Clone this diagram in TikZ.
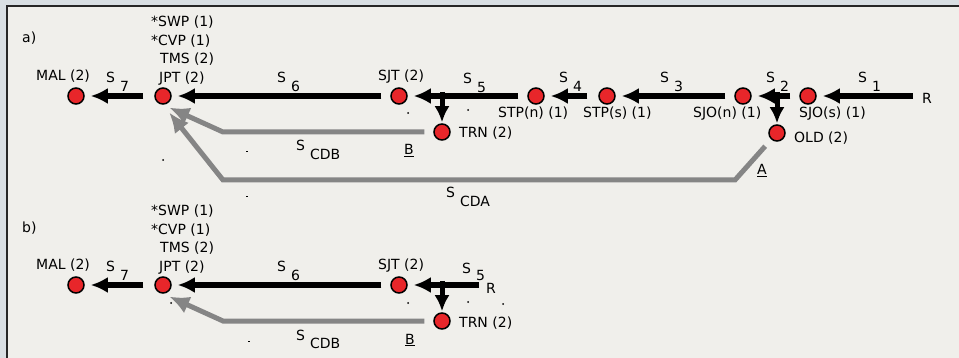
\documentclass[tikz,border=0pt]{standalone}
\usepackage{fontspec}
\setmainfont{DejaVu Sans}
\usetikzlibrary{arrows.meta}
\definecolor{stopred}{HTML}{E8262A}
\definecolor{cdgray}{HTML}{858585}
\definecolor{panelbg}{HTML}{F0EFEB}
\definecolor{outerbg}{HTML}{D9DFE3}
\newcommand{\seglbl}[1]{S\hspace{5pt}\raisebox{-9pt}{#1}}

\begin{document}
\begin{tikzpicture}[x=1pt, y=-1pt, font=\fontsize{14}{16}\selectfont,
  stop/.style={circle, draw=black, line width=1.5pt, fill=stopred, minimum size=16pt, inner sep=0pt},
  lbl/.style={anchor=base west, inner sep=0pt},
  seg/.style={line width=5.5pt, -{Latex[length=17pt,width=16pt]}, shorten <=9pt, shorten >=6pt},
  drop/.style={line width=5pt, -{Latex[length=16pt,width=15pt]}, shorten <=-4pt, shorten >=1pt},
  cd/.style={color=cdgray, line width=5pt, -{Latex[length=20pt,width=18pt]}}]

\useasboundingbox (0,0) rectangle (959,358);
\fill[outerbg] (0,0) rectangle (959,358);
\fill[panelbg] (7,6) rectangle (959,358);
\draw[line width=2pt, black!85] (7,358) -- (7,6) -- (959,6);

% a)
\node[lbl] (tagA) at (22,43) {a)};

\node[stop] (mala) at (76,96) {};
\node[stop] (jpta) at (163,96) {};
\node[stop] (sjta) at (399,96) {};
\node[stop] (trna) at (442,132) {};
\node[stop] (stpna) at (536,96) {};
\node[stop] (stpsa) at (607,96) {};
\node[stop] (sjona) at (743,96) {};
\node[stop] (olda) at (777,133) {};
\node[stop] (sjosa) at (808,96) {};

\node[lbl] (malta) at (36,81) {MAL (2)};
\node[lbl] (swpa) at (151,27) {*SWP (1)};
\node[lbl] (cvpa) at (151,45.5) {*CVP (1)};
\node[lbl] (tmsa) at (160,64) {TMS (2)};
\node[lbl] (jptta) at (159,82.5) {JPT (2)};
\node[lbl] (sjtta) at (378,81) {SJT (2)};
\node[lbl] (trnta) at (459,138) {TRN (2)};
\node[lbl] (stpnta) at (498,118) {STP(n) (1)};
\node[lbl] (stpsta) at (583,118) {STP(s) (1)};
\node[lbl] (sjonta) at (693,118) {SJO(n) (1)};
\node[lbl] (sjosta) at (799,118) {SJO(s) (1)};
\node[lbl] (oldta) at (794,143) {OLD (2)};
\node[lbl] (ra) at (922,104) {R};

\node[lbl] (s1a) at (858,83) {\seglbl{1}};
\node[lbl] (s2a) at (766,83) {\seglbl{2}};
\node[lbl] (s3a) at (660,83) {\seglbl{3}};
\node[lbl] (s4a) at (559,83) {\seglbl{4}};
\node[lbl] (s5a) at (463,84) {\seglbl{5}};
\node[lbl] (s6a) at (277,83) {\seglbl{6}};
\node[lbl] (s7a) at (106,83) {\seglbl{7}};
\node[lbl] (cdbsa) at (296,151) {\seglbl{CDB}};
\node[lbl] (cdbla) at (404,155) {\underline{B}};
\node[lbl] (cdasa) at (446,198) {\seglbl{CDA}};
\node[lbl] (cdala) at (757,175) {\underline{A}};

\draw[seg] (ra.west |- sjosa) -- (sjosa);
\draw[seg] (sjosa) -- (sjona);
\draw[seg] (sjona) -- (stpsa);
\draw[seg, shorten <=11pt] (stpsa) -- (stpna);
\draw[seg] (stpna) -- (sjta);
\draw[seg] (sjta) -- (jpta);
\draw[seg, shorten <=11pt] (jpta) -- (mala);
\draw[drop] (trna |- sjta) -- (trna);
\draw[drop] (olda |- sjona) -- (olda);

\coordinate (cdba) at (223,0);
\coordinate (cdaa1) at (735,180);
\coordinate (cdaa2) at (223,180);
\draw[cd, shorten <=9pt, shorten >=7pt] (trna.west) -- (trna.west -| cdba) -- (jpta.south);
\draw[cd, shorten <=9pt, shorten >=10pt] (olda) -- (cdaa1) -- (cdaa2) -- (jpta.south);

\fill (163,160) circle (1pt);
\fill (408,113) circle (1pt);
\fill (468,110) circle (1pt);
\fill (246,151.5) rectangle (248,152.5);
\fill (246,196.5) rectangle (248,197.5);

% b)
\node[lbl] (tagB) at (22,233) {b)};

\node[stop] (malb) at (76,285) {};
\node[stop] (jptb) at (163,285) {};
\node[stop] (sjtb) at (399,285) {};
\node[stop] (trnb) at (442,321) {};

\node[lbl] (maltb) at (36,270) {MAL (2)};
\node[lbl] (swpb) at (151,216) {*SWP (1)};
\node[lbl] (cvpb) at (151,234.5) {*CVP (1)};
\node[lbl] (tmsb) at (160,253) {TMS (2)};
\node[lbl] (jpttb) at (159,271.5) {JPT (2)};
\node[lbl] (sjttb) at (378,270) {SJT (2)};
\node[lbl] (trntb) at (459,327) {TRN (2)};
\node[lbl] (rb) at (486,294) {R};

\node[lbl] (s5b) at (462,273) {S\hspace{5pt}\raisebox{-7pt}{5}};
\node[lbl] (s6b) at (277,272) {\seglbl{6}};
\node[lbl] (s7b) at (106,272) {\seglbl{7}};
\node[lbl] (cdbsb) at (296,340) {\seglbl{CDB}};
\node[lbl] (cdblb) at (405,344) {\underline{B}};

\draw[seg, shorten <=7pt] (rb.west |- sjtb) -- (sjtb);
\draw[seg] (sjtb) -- (jptb);
\draw[seg, shorten <=11pt] (jptb) -- (malb);
\draw[drop] (trnb |- sjtb) -- (trnb);

\coordinate (cdbb) at (223,0);
\draw[cd, shorten <=9pt, shorten >=7pt] (trnb.west) -- (trnb.west -| cdbb) -- (jptb.south);

\fill (171,303) circle (1pt);
\fill (408,303) circle (1pt);
\fill (468,302) circle (1pt);
\fill (503,304) circle (1pt);
\fill (248,340.5) rectangle (250,341.5);
\end{tikzpicture}
\end{document}
